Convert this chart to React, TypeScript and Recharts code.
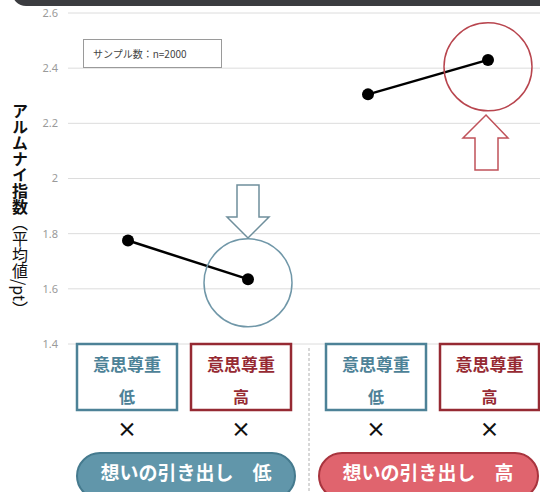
import React from 'react';
import { ComposedChart, Line, XAxis, YAxis, CartesianGrid, ReferenceDot } from 'recharts';

const yTicks = [1.4, 1.6, 1.8, 2.0, 2.2, 2.4, 2.6];
const groupLowX = [1, 2];
const groupLowY = [1.775, 1.635];
const groupHighX = [3, 4];
const groupHighY = [2.305, 2.43];
const boxLabels = ['低', '高', '低', '高'];
const groupLabels = ['想いの引き出し　低', '想いの引き出し　高'];
const sampleText = 'サンプル数：n=2000';

const lowData = groupLowX.map((x, i) => ({ x, y: groupLowY[i] }));
const highData = groupHighX.map((x, i) => ({ x, y: groupHighY[i] }));

const FONT = '"Noto Sans CJK JP", "Noto Sans", sans-serif';
const TEAL = '#4d8297';
const RED = '#962a33';

const Dot = (props: any) => {
  const { cx, cy } = props;
  return <circle cx={cx} cy={cy} r={6} fill="#000" />;
};

const boxes = [
  { x: 76, w: 102, c: TEAL },
  { x: 190, w: 102, c: RED },
  { x: 325, w: 102, c: TEAL },
  { x: 439, w: 101, c: RED },
];

export default function App() {
  return (
    <div style={{ position: 'absolute', left: 0, top: 0, width: 540, height: 492, overflow: 'hidden', background: '#fff', fontFamily: FONT }}>
      <ComposedChart width={548} height={492} margin={{ top: 13, right: 0, bottom: 148, left: 0 }} style={{ position: 'absolute', left: 0, top: 0 }}>
        <CartesianGrid vertical={false} stroke="#dcdcdc" strokeWidth={1} />
        <XAxis type="number" dataKey="x" domain={[0.5, 4.5]} hide allowDuplicatedCategory={false} />
        <YAxis
          type="number"
          domain={[1.4, 2.6]}
          ticks={yTicks}
          width={68}
          axisLine={false}
          tickLine={false}
          tickMargin={4}
          interval={0}
          tickFormatter={(v: number) => String(Math.round(v * 10) / 10)}
          tick={{ fill: '#9a9a9a', fontSize: 11, fontFamily: '"Noto Sans", sans-serif' }}
        />
        <Line data={lowData} dataKey="y" type="linear" stroke="#000" strokeWidth={2.5} dot={<Dot />} activeDot={false} isAnimationActive={false} />
        <Line data={highData} dataKey="y" type="linear" stroke="#000" strokeWidth={2.5} dot={<Dot />} activeDot={false} isAnimationActive={false} />
        <ReferenceDot x={2} y={1.622} r={44} fill="none" stroke="#7097a8" strokeWidth={1.5} ifOverflow="visible" />
        <ReferenceDot x={4} y={2.405} r={44} fill="none" stroke="#b8454e" strokeWidth={1.5} ifOverflow="visible" />
      </ComposedChart>
      <svg width={540} height={492} style={{ position: 'absolute', left: 0, top: 0, pointerEvents: 'none' }}>
        {/* header bar */}
        <rect x={12} y={-30} width={560} height={36} rx={14} fill="#3b3c40" />
        {/* sample box */}
        <rect x={83.5} y={39.5} width={138} height={28} fill="#fff" stroke="#9a9a9a" strokeWidth={1} />
        <text x={93} y={57.5} fontSize={10} fill="#444" fontFamily={FONT}>{sampleText}</text>
        {/* arrows */}
        <polygon points="237,185 259,185 259,217 269,217 248,238 227,217 237,217" fill="#fff" stroke="#6f8f9c" strokeWidth={1.5} />
        <polygon points="486,115 508,138 498,138 498,170 475,170 475,138 463,138" fill="#fff" stroke="#c0525a" strokeWidth={1.5} />
        {/* y axis title */}
        <text x={20} y={103} fontSize={16} fill="#111" fontFamily={FONT} style={{ writingMode: 'vertical-rl' } as any}>
          <tspan fontWeight="bold">アルムナイ指数</tspan>
          <tspan fontWeight="normal">（平均値/pt）</tspan>
        </text>
        {/* dashed separator */}
        <line x1={309} y1={348} x2={309} y2={492} stroke="#b0b0b0" strokeWidth={1} strokeDasharray="3 2" />
        {/* boxes */}
        {boxes.map((b, i) => (
          <g key={i}>
            <rect x={b.x + 1} y={344} width={b.w - 2} height={66} fill="#fff" stroke={b.c} strokeWidth={2.5} />
            <text x={b.x + b.w / 2} y={371} textAnchor="middle" fontSize={17} fontWeight="bold" fill={b.c} fontFamily={FONT}>意思尊重</text>
            <text x={b.x + b.w / 2} y={403} textAnchor="middle" fontSize={16} fontWeight="bold" fill={b.c} fontFamily={FONT}>{boxLabels[i]}</text>
            <text x={b.x + b.w / 2} y={437} textAnchor="middle" fontSize={20} fontWeight="bold" fill="#111" fontFamily={FONT}>×</text>
          </g>
        ))}
        {/* group pills */}
        <rect x={77} y={453} width={218} height={46} rx={23} fill="#6196aa" stroke="#457a8e" strokeWidth={2} />
        <text x={186} y={480} textAnchor="middle" fontSize={19} fontWeight="bold" fill="#fff" fontFamily={FONT}>{groupLabels[0]}</text>
        <rect x={319} y={453} width={219} height={46} rx={23} fill="#e0646e" stroke="#a8343e" strokeWidth={2} />
        <text x={428} y={480} textAnchor="middle" fontSize={19} fontWeight="bold" fill="#fff" fontFamily={FONT}>{groupLabels[1]}</text>
      </svg>
    </div>
  );
}
